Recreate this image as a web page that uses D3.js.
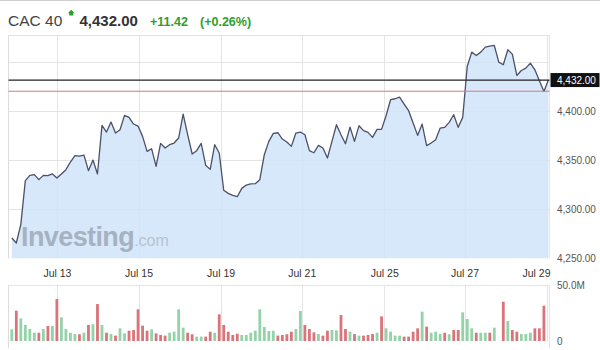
<!DOCTYPE html>
<html>
<head>
<meta charset="utf-8">
<script src="https://cdn.jsdelivr.net/npm/d3@7"></script>
<style>
  html, body { margin: 0; padding: 0; background: #fff; }
  svg { display: block; font-family: "Liberation Sans", Arial, Helvetica, sans-serif; }
</style>
</head>
<body>
<svg id="chart" width="600" height="350"></svg>
<script>
// ---- DATA ----
const title = "CAC 40";
const lastPrice = 4432.00;
const change = "+11.42";
const changePct = "(+0.26%)";
const prevClose = 4420.58;

const prices = [
  4270.7,4265.6,4284.4,4329.3,4334.7,4335.4,4330.3,4334.7,4334.4,4336.1,
  4332.0,4336.1,4340.5,4348.3,4354.8,4354.4,4355.4,4339.5,4350.3,4336.1,
  4385.7,4378.9,4389.1,4377.9,4381.3,4395.9,4393.9,4387.1,4385.0,4374.5,
  4359.2,4361.9,4343.9,4367.3,4362.6,4366.0,4367.7,4372.8,4397.3,4376.2,
  4356.5,4359.9,4367.3,4344.9,4340.8,4366.0,4357.5,4319.4,4316.3,4314.3,
  4312.9,4321.4,4324.8,4325.9,4326.2,4330.3,4355.8,4369.4,4377.6,4378.2,
  4371.8,4368.7,4364.3,4377.9,4378.9,4376.2,4359.9,4357.8,4365.3,4362.6,
  4352.4,4369.4,4386.4,4376.2,4367.0,4384.0,4369.4,4385.4,4380.3,4378.6,
  4373.5,4381.6,4381.6,4395.6,4411.9,4412.9,4414.6,4407.5,4400.7,4388.1,
  4375.5,4387.1,4365.0,4367.7,4371.1,4383.0,4383.7,4388.8,4396.6,4383.7,
  4393.9,4445.9,4460.5,4457.1,4460.5,4465.6,4466.7,4467.3,4450.3,4447.6,
  4462.9,4458.5,4436.7,4441.8,4444.2,4449.3,4442.5,4431.3,4420.4,4432.0
];

// volume in millions
const volumes = [
  10.4,27.1,20.2,14.3,10.7,7.4,7.4,10.7,13.4,13.4,
  37.5,21.1,10.7,7.4,6.2,6.0,7.4,14.3,14.9,33.0,
  14.3,7.4,6.2,4.8,11.3,6.8,9.2,9.8,28.3,13.7,
  9.2,10.4,6.8,5.4,4.8,7.4,8.3,28.3,11.9,7.4,
  6.0,3.9,3.9,3.9,8.3,7.4,23.8,14.3,8.3,5.4,
  6.5,5.4,5.4,7.4,9.2,28.3,12.5,8.9,9.2,4.8,
  5.4,6.0,8.3,10.7,26.8,14.3,10.7,7.7,6.2,4.8,
  9.2,9.8,9.5,23.2,10.7,8.3,6.2,4.8,4.8,5.4,
  6.2,7.4,22.0,11.3,8.3,4.8,4.8,3.9,3.9,8.3,
  11.3,26.2,12.8,7.4,8.3,6.2,7.4,6.0,9.8,9.8,
  25.6,19.6,11.3,7.4,7.4,7.4,7.4,11.9,0,35.1,
  17.9,9.8,8.3,6.2,6.2,7.4,11.3,11.3,31.5
];

// bar direction: u = up (green), d = down (red)
const volumeDir = (
  "uduuuududu" + "duuuududud" + "ududuudddd" + "duddduuuud" +
  "duuddudddd" + "duuuuuuuud" + "ddduudddud" + "duuddududd" +
  "duduuuuddd" + "duduuududd" + "uuuduuduud" + "udduuuddd"
).split("");

const dateLabels = ["Jul 13","Jul 15","Jul 19","Jul 21","Jul 25","Jul 27","Jul 29"];
const dateTickIdx = [10, 28.1, 46.3, 64.3, 82.6, 100.4, 118.6];
const priceGridValues = [4450, 4400, 4350, 4300];
const priceLabelValues = [4400, 4350, 4300, 4250];
const volumeLabelValues = [0, 50];

// ---- LAYOUT ----
const svg = d3.select("#chart");
const L = 8.5, R = 549.5;
const pTop = 35, pBot = 258.3;
const vTop = 285, vBot = 341;

const x = d3.scaleLinear().domain([0, prices.length - 1]).range([11.8, 548.4]);
const y = d3.scaleLinear().domain([4250, 4478]).range([pBot, pTop]);
const yv = d3.scaleLinear().domain([0, 50]).range([vBot, vTop]);

const gridColor = "#e4e4e4";

svg.append("rect").attr("width", 600).attr("height", 350).attr("fill", "#fff");
svg.append("line").attr("x1", 0).attr("x2", 600).attr("y1", 0.5).attr("y2", 0.5)
  .attr("stroke", "#cfcfcf").attr("stroke-width", 1);

// ---- HEADER ----
svg.append("text").attr("x", 8).attr("y", 25.5).attr("font-size", 15.5)
  .attr("fill", "#444").text(title);
svg.append("path").attr("d", "M71.2,9.8 L74.6,13.2 L73.2,13.2 L73.2,15.6 L69.2,15.6 L69.2,13.2 L67.8,13.2 Z")
  .attr("fill", "#2c9e2c");
svg.append("text").attr("x", 79.5).attr("y", 25.5).attr("font-size", 15).attr("font-weight", "bold")
  .attr("fill", "#333").text(d3.format(",.2f")(lastPrice));
svg.append("text").attr("x", 150).attr("y", 25.5).attr("font-size", 12.5).attr("font-weight", "bold")
  .attr("fill", "#2e9e2e").text(change);
svg.append("text").attr("x", 200).attr("y", 25.5).attr("font-size", 12.5).attr("font-weight", "bold")
  .attr("fill", "#2e9e2e").text(changePct);

// ---- PRICE PANEL ----
const gPrice = svg.append("g");
// gridlines
gPrice.selectAll(".hg").data(priceGridValues).join("line")
  .attr("x1", L).attr("x2", R).attr("y1", d => Math.round(y(d)) + 0.5).attr("y2", d => Math.round(y(d)) + 0.5)
  .attr("stroke", gridColor);
gPrice.selectAll(".vg").data(dateTickIdx).join("line")
  .attr("x1", d => Math.round(x(d)) + 0.5).attr("x2", d => Math.round(x(d)) + 0.5)
  .attr("y1", pTop).attr("y2", pBot)
  .attr("stroke", gridColor);
// borders
gPrice.append("line").attr("x1", L).attr("x2", R).attr("y1", pTop + 0.5).attr("y2", pTop + 0.5).attr("stroke", gridColor);
gPrice.append("line").attr("x1", L).attr("x2", L).attr("y1", pTop).attr("y2", pBot).attr("stroke", "#dcdcdc");
gPrice.append("line").attr("x1", R).attr("x2", R).attr("y1", pTop).attr("y2", pBot).attr("stroke", gridColor);

// area
const area = d3.area().x((d, i) => x(i)).y0(y(4250)).y1(d => y(d));
gPrice.append("path").datum(prices).attr("d", area)
  .attr("fill", "rgb(208,228,249)").attr("fill-opacity", 0.85);

// watermark
const wm = gPrice.append("text").attr("x", 21).attr("y", 246);
wm.append("tspan").attr("font-size", 27).attr("font-weight", "bold").attr("letter-spacing", -0.6)
  .attr("fill", "#a7b2c1").text("Investing");
wm.append("tspan").attr("font-size", 16).attr("fill", "#b7c2d0").text(".com");

// line
const line = d3.line().x((d, i) => x(i)).y(d => y(d));
gPrice.append("path").datum(prices).attr("d", line)
  .attr("fill", "none").attr("stroke", "#4a5168").attr("stroke-width", 1.3)
  .attr("stroke-linejoin", "round");

// previous close and last price lines
gPrice.append("line").attr("x1", L).attr("x2", R).attr("y1", y(prevClose)).attr("y2", y(prevClose))
  .attr("stroke", "#d9797c").attr("stroke-width", 1);
gPrice.append("line").attr("x1", L).attr("x2", R).attr("y1", y(lastPrice)).attr("y2", y(lastPrice))
  .attr("stroke", "#222").attr("stroke-width", 1.2);

// y axis labels
const yAxis = d3.axisRight(y).tickValues(priceLabelValues).tickFormat(d3.format(",.2f")).tickSize(0).tickPadding(0);
const gy = svg.append("g").attr("transform", "translate(557,0)").call(yAxis);
gy.select(".domain").remove();
gy.selectAll("text").attr("font-size", 10).attr("fill", "#555").attr("font-family", null);

// last price label
const ly = y(lastPrice);
svg.append("rect").attr("x", 550.5).attr("y", ly - 7).attr("width", 49).attr("height", 14).attr("fill", "#111");
svg.append("text").attr("x", 557).attr("y", ly + 3.6).attr("font-size", 10).attr("fill", "#fff")
  .text(d3.format(",.2f")(lastPrice));

// x axis labels
const xAxis = d3.axisBottom(x).tickValues(dateTickIdx).tickFormat((d, i) => dateLabels[i]).tickSize(0);
const gx = svg.append("g").attr("transform", `translate(0,${pBot})`).call(xAxis);
gx.select(".domain").remove();
gx.selectAll("text").attr("font-size", 10.5).attr("fill", "#333").attr("font-family", null)
  .attr("y", 19).attr("dy", "0");
gx.selectAll(".tick").filter((d, i) => i === dateLabels.length - 1).select("text")
  .attr("text-anchor", "end").attr("x", R - x(dateTickIdx[dateTickIdx.length - 1]) + 0.5);

// ---- VOLUME PANEL ----
const gVol = svg.append("g");
gVol.append("line").attr("x1", L).attr("x2", R).attr("y1", vTop + 0.5).attr("y2", vTop + 0.5).attr("stroke", gridColor);
gVol.append("line").attr("x1", L).attr("x2", L).attr("y1", vTop).attr("y2", 348).attr("stroke", "#dcdcdc");
gVol.append("line").attr("x1", R).attr("x2", R).attr("y1", vTop).attr("y2", 348).attr("stroke", gridColor);
gVol.selectAll(".vvg").data(dateTickIdx).join("line")
  .attr("x1", d => Math.round(x(d)) + 0.5).attr("x2", d => Math.round(x(d)) + 0.5)
  .attr("y1", vTop).attr("y2", vBot)
  .attr("stroke", gridColor);

gVol.selectAll(".bar").data(volumes).join("rect")
  .attr("x", (d, i) => x(i) - 1.4)
  .attr("width", 2.8)
  .attr("y", d => yv(d))
  .attr("height", d => yv(0) - yv(d))
  .attr("fill", (d, i) => volumeDir[i] === "u" ? "#94d2a8" : "#d9757a");

const yvAxis = d3.axisRight(yv).tickValues(volumeLabelValues)
  .tickFormat(d => d === 0 ? "0" : d3.format(".1f")(d) + "M").tickSize(0).tickPadding(0);
const gyv = svg.append("g").attr("transform", "translate(557,0)").call(yvAxis);
gyv.select(".domain").remove();
gyv.selectAll("text").attr("font-size", 10).attr("fill", "#555").attr("font-family", null);
</script>
</body>
</html>
